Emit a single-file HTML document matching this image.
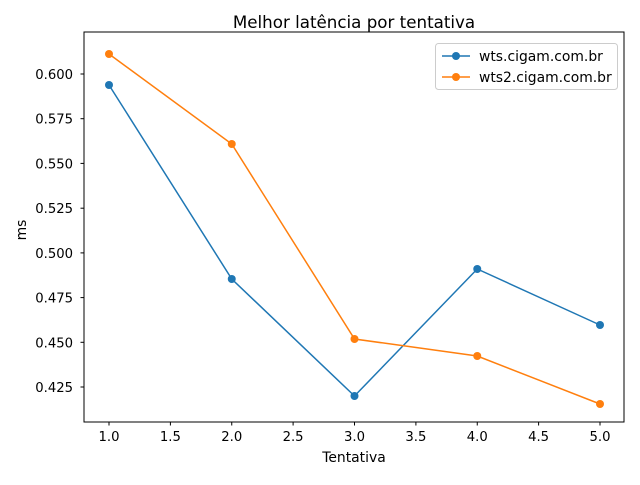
<!DOCTYPE html>
<html><head><meta charset="utf-8"><style>body{margin:0;background:#fff}</style></head><body>
<svg width="640" height="480" xmlns="http://www.w3.org/2000/svg" font-family="'DejaVu Sans', 'Liberation Sans', sans-serif">
<rect width="640" height="480" fill="#fff"/>
<text x="354" y="28" font-size="16.7" text-anchor="middle">Melhor latência por tentativa</text>
<g stroke="#000" stroke-width="1">
<line x1="109" y1="422" x2="109" y2="425.5"/><line x1="170.4" y1="422" x2="170.4" y2="425.5"/><line x1="231.75" y1="422" x2="231.75" y2="425.5"/><line x1="293.1" y1="422" x2="293.1" y2="425.5"/><line x1="354.5" y1="422" x2="354.5" y2="425.5"/><line x1="415.9" y1="422" x2="415.9" y2="425.5"/><line x1="477.25" y1="422" x2="477.25" y2="425.5"/><line x1="538.6" y1="422" x2="538.6" y2="425.5"/><line x1="600" y1="422" x2="600" y2="425.5"/>
<line x1="80.5" y1="387" x2="84" y2="387"/><line x1="80.5" y1="342.3" x2="84" y2="342.3"/><line x1="80.5" y1="297.6" x2="84" y2="297.6"/><line x1="80.5" y1="252.9" x2="84" y2="252.9"/><line x1="80.5" y1="208.2" x2="84" y2="208.2"/><line x1="80.5" y1="163.4" x2="84" y2="163.4"/><line x1="80.5" y1="118.7" x2="84" y2="118.7"/><line x1="80.5" y1="74" x2="84" y2="74"/>
</g>
<g font-size="13.2" text-anchor="middle">
<text x="109" y="441">1.0</text><text x="170.4" y="441">1.5</text><text x="231.75" y="441">2.0</text><text x="293.1" y="441">2.5</text><text x="354.5" y="441">3.0</text><text x="415.9" y="441">3.5</text><text x="477.25" y="441">4.0</text><text x="538.6" y="441">4.5</text><text x="600" y="441">5.0</text>
</g>
<g font-size="13.2" text-anchor="end">
<text x="73" y="392">0.425</text><text x="73" y="347.3">0.450</text><text x="73" y="302.6">0.475</text><text x="73" y="257.9">0.500</text><text x="73" y="213.2">0.525</text><text x="73" y="168.4">0.550</text><text x="73" y="123.7">0.575</text><text x="73" y="79">0.600</text>
</g>
<text x="354" y="462" font-size="13.9" text-anchor="middle">Tentativa</text>
<text x="26" y="230" font-size="13.9" text-anchor="middle" transform="rotate(-90 26 230)">ms</text>
<polyline fill="none" stroke="#1f77b4" stroke-width="1.5" points="109,85 231.75,279 354.5,396 477.25,269 600,325"/>
<polyline fill="none" stroke="#ff7f0e" stroke-width="1.5" points="109,54 231.75,144 354.5,339 477.25,356 600,404"/>
<g fill="#1f77b4"><circle cx="109" cy="85" r="4"/><circle cx="231.75" cy="279" r="4"/><circle cx="354.5" cy="396" r="4"/><circle cx="477.25" cy="269" r="4"/><circle cx="600" cy="325" r="4"/></g>
<g fill="#ff7f0e"><circle cx="109" cy="54" r="4"/><circle cx="231.75" cy="144" r="4"/><circle cx="354.5" cy="339" r="4"/><circle cx="477.25" cy="356" r="4"/><circle cx="600" cy="404" r="4"/></g>
<rect x="84" y="32" width="540" height="390" fill="none" stroke="#000" stroke-width="1"/>
<rect x="435.5" y="43.5" width="182" height="46" rx="3" fill="#fff" fill-opacity="0.8" stroke="#ccc"/>
<line x1="442" y1="56" x2="470" y2="56" stroke="#1f77b4" stroke-width="1.5"/><circle cx="456" cy="56" r="4" fill="#1f77b4"/>
<text x="479" y="61" font-size="13.9">wts.cigam.com.br</text>
<line x1="442" y1="77" x2="470" y2="77" stroke="#ff7f0e" stroke-width="1.5"/><circle cx="456" cy="77" r="4" fill="#ff7f0e"/>
<text x="479" y="82" font-size="13.9">wts2.cigam.com.br</text>
</svg>
</body></html>
